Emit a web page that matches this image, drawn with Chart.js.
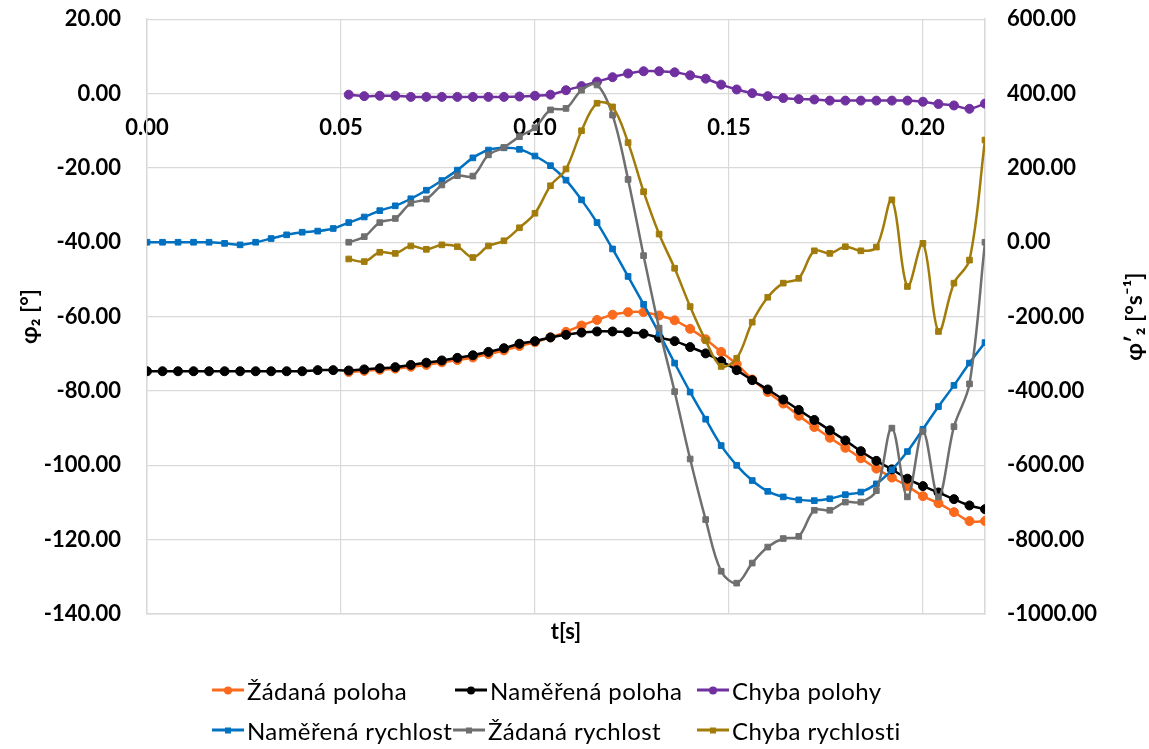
<!DOCTYPE html>
<html>
<head>
<meta charset="utf-8">
<script src="https://cdn.jsdelivr.net/npm/chart.js@4/dist/chart.umd.min.js"></script>
<style>
    html, body { margin: 0; padding: 0; background: #fff; }
    #wrap { position: relative; width: 1149px; height: 749px; }
    #legend { position: absolute; left: 0; top: 0; width: 1149px; height: 749px; pointer-events: none;
              font-family: Lato, 'Noto Sans', sans-serif; font-size: 24px; letter-spacing: 0.4px; color: #000; }
    .item { position: absolute; display: flex; align-items: center; white-space: nowrap; transform: translateY(-50%); }
    .sym { position: relative; width: 32px; height: 3px; margin-right: 3px; }
    .sym i { position: absolute; left: 50%; top: 50%; transform: translate(-50%, -50%); display: block; }
</style>
</head>
<body>
<div id="wrap">
    <canvas id="chart" width="1149" height="749"></canvas>
    <div id="legend"></div>
</div>
<script>
// time axis [s]
const times = [0.000, 0.004, 0.008, 0.012, 0.016, 0.020, 0.024, 0.028, 0.032, 0.036, 0.040,
    0.044, 0.048, 0.052, 0.056, 0.060, 0.064, 0.068, 0.072, 0.076, 0.080, 0.084, 0.088,
    0.092, 0.096, 0.100, 0.104, 0.108, 0.112, 0.116, 0.120, 0.124, 0.128, 0.132, 0.136,
    0.140, 0.144, 0.148, 0.152, 0.156, 0.160, 0.164, 0.168, 0.172, 0.176, 0.180, 0.184,
    0.188, 0.192, 0.196, 0.200, 0.204, 0.208, 0.212, 0.216];

// poloha [°] - left axis
const zadanaPoloha = [null, null, null, null, null, null, null, null, null, null, null, null, null,
    -74.9, -74.6, -74.3, -74.0, -73.5, -73.0, -72.3, -71.7, -71.0, -70.1, -69.1, -67.9, -66.9,
    -65.6, -64.1, -62.4, -60.9, -59.5, -58.8, -58.8, -59.7, -61.0, -63.3, -66.1, -69.5, -72.8,
    -76.9, -80.3, -83.4, -86.7, -89.7, -92.6, -95.3, -98.1, -100.9, -103.3, -105.6, -108.3,
    -110.2, -112.6, -115.0, -115.0];
const namerenaPoloha = [-74.7, -74.7, -74.7, -74.7, -74.7, -74.7, -74.7, -74.7, -74.7, -74.7, -74.7,
    -74.4, -74.4, -74.5, -74.2, -73.9, -73.6, -73.0, -72.4, -71.8, -71.1, -70.4, -69.5, -68.5,
    -67.3, -66.6, -65.6, -64.9, -64.3, -64.0, -64.0, -64.2, -64.6, -65.7, -66.6, -68.2, -69.9,
    -72.0, -74.4, -77.1, -79.6, -82.3, -85.1, -87.8, -90.6, -93.3, -96.2, -98.8, -101.1, -103.6,
    -105.6, -107.3, -109.1, -110.8, -111.8];
const chybaPolohy = [null, null, null, null, null, null, null, null, null, null, null, null, null,
    -0.3, -0.7, -0.6, -0.6, -0.9, -0.9, -0.9, -0.9, -0.9, -0.9, -0.9, -0.8, -0.6, -0.3, 0.9, 2.0,
    3.2, 4.4, 5.4, 6.0, 6.0, 5.7, 4.9, 4.0, 2.4, 1.1, 0.1, -0.7, -1.2, -1.5, -1.6, -1.9, -1.9,
    -1.9, -1.9, -1.9, -1.9, -2.2, -2.8, -3.2, -4.1, -2.7];

// rychlost [°/s] - right axis
const namerenaRychlost = [0, 0, 0, 0, 0, -3, -7, 0, 10, 20, 27, 30, 37, 53, 68, 85, 98, 117, 140,
    166, 194, 227, 248, 254, 250, 232, 206, 167, 114, 53, -18, -92, -167, -245, -325, -403, -476,
    -547, -600, -641, -670, -685, -693, -695, -690, -679, -672, -650, -612, -563, -503, -442,
    -385, -325, -270];
const zadanaRychlost = [null, null, null, null, null, null, null, null, null, null, null, null, null,
    0, 15, 53, 64, 105, 116, 154, 179, 178, 235, 255, 284, 308, 356, 360, 409, 423, 342, 169, -36,
    -231, -402, -583, -746, -885, -917, -863, -820, -797, -791, -721, -721, -699, -699, -668,
    -500, -685, -509, -685, -496, -381, 0];
const chybaRychlosti = [null, null, null, null, null, null, null, null, null, null, null, null, null,
    -45, -52, -27, -30, -10, -19, -7, -12, -41, -10, 4, 39, 78, 152, 197, 300, 374, 364, 268, 136,
    22, -70, -173, -264, -334, -312, -215, -148, -110, -97, -23, -30, -12, -23, -13, 114, -119,
    -3, -240, -110, -48, 275];

const FONT = "Lato, 'Noto Sans', sans-serif";
const GRID = '#d9d9d9';

function pts(vals) {
    return times.map((t, i) => ({ x: t, y: vals[i] }));
}

function series(label, vals, color, axis, style, n) {
    const isRect = style === 'rect';
    return {
        label: label,
        data: pts(vals),
        yAxisID: axis,
        borderColor: color,
        backgroundColor: color,
        borderWidth: 2.5,
        tension: 0.35,
        pointStyle: style,
        pointRadius: isRect ? 4 : 4.5,
        pointBorderWidth: 1,
        pointBackgroundColor: color,
        pointBorderColor: color,
        order: 6 - n
    };
}

// y axis titles, both read bottom-to-top
const axisTitles = {
    id: 'axisTitles',
    afterDraw(chart) {
        const ctx = chart.ctx;
        const a = chart.chartArea;
        const cy = (a.top + a.bottom) / 2;
        ctx.save();
        ctx.font = 'bold 23px ' + FONT;
        ctx.fillStyle = '#000';
        ctx.textAlign = 'center';
        ctx.textBaseline = 'middle';
        [[30, 'φ₂ [°]'], [chart.width - 14, 'φ′₂ [°s⁻¹]']].forEach(([x, txt]) => {
            ctx.save();
            ctx.translate(x, cy);
            ctx.rotate(-Math.PI / 2);
            ctx.fillText(txt, 0, 0);
            ctx.restore();
        });
        ctx.restore();
    }
};

Chart.defaults.font.family = FONT;
Chart.defaults.color = '#000';

const tickFont = { size: 22, weight: 'bold' };

const chart = new Chart(document.getElementById('chart'), {
    type: 'line',
    data: {
        datasets: [
            series('Žádaná poloha', zadanaPoloha, '#fa6a1c', 'y', 'circle', 0),
            series('Naměřená poloha', namerenaPoloha, '#000000', 'y', 'circle', 1),
            series('Chyba polohy', chybaPolohy, '#7030a0', 'y', 'circle', 2),
            series('Naměřená rychlost', namerenaRychlost, '#0070c0', 'y1', 'rect', 3),
            series('Žádaná rychlost', zadanaRychlost, '#6f6f6f', 'y1', 'rect', 4),
            series('Chyba rychlosti', chybaRychlosti, '#a27c0b', 'y1', 'rect', 5)
        ]
    },
    options: {
        responsive: false,
        animation: false,
        layout: { padding: { top: 0, bottom: 100, left: 0, right: 0 } },
        plugins: { legend: { display: false }, tooltip: { enabled: false } },
        scales: {
            x: {
                type: 'linear', min: 0, max: 0.216,
                ticks: { display: false, stepSize: 0.05 },
                grid: { color: GRID, lineWidth: 1.2, drawTicks: false },
                border: { color: GRID, width: 1.5 },
                title: { display: true, text: 't[s]', font: { size: 22, weight: 'bold' }, padding: { top: 4, bottom: 4 } },
                afterFit(s) { s.height = 35; }
            },
            x2: {
                type: 'linear', min: 0, max: 0.216, position: { y: 0 },
                ticks: { stepSize: 0.05, includeBounds: false, padding: 21, font: tickFont, callback: v => v.toFixed(2) },
                grid: { display: false, drawTicks: false },
                border: { display: false }
            },
            y: {
                position: 'left', min: -140, max: 20,
                ticks: { stepSize: 20, padding: 6, font: tickFont, callback: v => v.toFixed(2) },
                grid: { color: GRID, lineWidth: 1.2, tickLength: 20, tickColor: 'transparent' },
                border: { color: GRID, width: 1.5 },
                afterFit(s) { s.width = 147; }
            },
            y1: {
                position: 'right', min: -1000, max: 600,
                ticks: { stepSize: 200, padding: 6, font: tickFont, callback: v => v.toFixed(2) },
                grid: { drawOnChartArea: false, tickLength: 16, tickColor: 'transparent' },
                border: { color: GRID, width: 1.5 },
                afterFit(s) { s.width = 164; }
            }
        }
    },
    plugins: [axisTitles]
});

// legend laid out like the original two rows
const legendSlots = [[212, 690], [455, 690], [697, 690], [212, 730], [453, 730], [697, 730]];
const legendEl = document.getElementById('legend');
chart.data.datasets.forEach((ds, i) => {
    const item = document.createElement('div');
    item.className = 'item';
    item.style.left = legendSlots[i][0] + 'px';
    item.style.top = legendSlots[i][1] + 'px';
    const sym = document.createElement('span');
    sym.className = 'sym';
    sym.style.background = ds.borderColor;
    const dot = document.createElement('i');
    const sz = ds.pointStyle === 'rect' ? 6 : 8;
    dot.style.width = sz + 'px';
    dot.style.height = sz + 'px';
    dot.style.background = ds.borderColor;
    if (ds.pointStyle !== 'rect') dot.style.borderRadius = '50%';
    sym.appendChild(dot);
    item.appendChild(sym);
    const txt = document.createElement('span');
    txt.textContent = ds.label;
    item.appendChild(txt);
    legendEl.appendChild(item);
});
</script>
</body>
</html>
